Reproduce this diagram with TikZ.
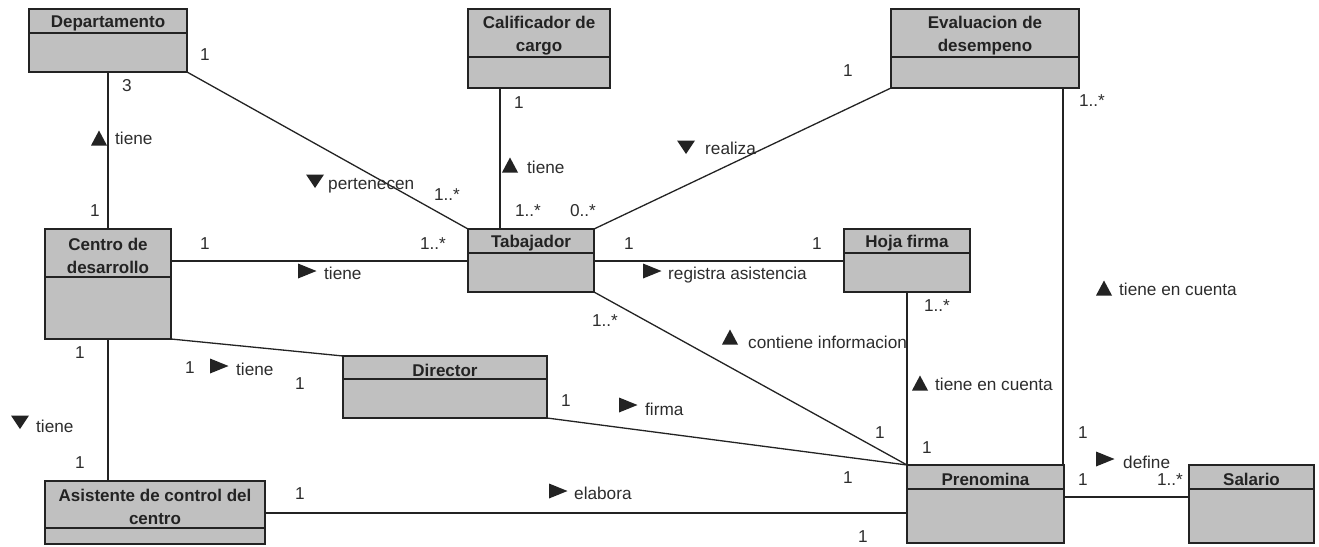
\documentclass[tikz,border=0pt]{standalone}
\usepackage{fontspec}
\setmainfont{Liberation Sans}
\definecolor{boxfill}{RGB}{192,192,192}
\definecolor{ink}{RGB}{35,35,35}
\definecolor{txt}{RGB}{45,45,45}
\tikzset{
  cls/.style={draw=ink, fill=boxfill, line width=1.4pt, inner sep=0pt, outer sep=0pt, rectangle},
  ttl/.style={font=\fontsize{17}{23}\selectfont\bfseries, text=ink, align=center, inner sep=0pt},
  lbl/.style={font=\fontsize{17.2}{20}\selectfont, text=txt, inner sep=0pt},
  conn/.style={draw=ink, line width=1.3pt},
  tup/.pic={\fill[ink] (-8,7.5) -- (8,7.5) -- (0,-7.5) -- cycle;},
  tdown/.pic={\fill[ink] (-9,-6.5) -- (9,-6.5) -- (0,7) -- cycle;},
  tright/.pic={\fill[ink] (-9,-7.5) -- (-9,7.5) -- (9.5,0) -- cycle;},
}
% name, x1, y1, x2, y2, ydiv, title
\newcommand\umlcls[7]{%
  \node[cls, minimum width={(#4-#2)*1pt}, minimum height={(#5-#3)*1pt}] (#1) at ({(#2+#4)/2},{(#3+#5)/2}) {};
  \draw[ink, line width=1.3pt] ([yshift={-(#6-#3)*1pt}]#1.north west) -- ([yshift={-(#6-#3)*1pt}]#1.north east);
  \node[ttl] (#1t) at ({(#2+#4)/2},{(#3+#6)/2+2.5}) {#7};
}
% name, x, y, text
\newcommand\mult[4]{\node[lbl, anchor=base] (#1) at (#2,{#3+6}) {#4};}
% name, pic, tx, ty, text x, text y, text
\newcommand\role[7]{\pic at (#3,#4) {#2}; \node[lbl, anchor=base west] (#1) at (#5,{#6+6}) {#7};}
\begin{document}
\begin{tikzpicture}[x=1pt, y=-1pt]
\useasboundingbox (0,0) rectangle (1319,546);
\fill[white] (0,0) rectangle (1319,546);
% classes
\umlcls{dep}{29}{9}{187}{72}{33}{Departamento}
\umlcls{cal}{468}{9}{610}{88}{57}{Calificador de\\cargo}
\umlcls{eva}{891}{9}{1079}{88}{57}{Evaluacion de\\desempeno}
\umlcls{cen}{45}{229}{171}{339}{277}{Centro de\\desarrollo}
\umlcls{tab}{468}{229}{594}{292}{253}{Tabajador}
\umlcls{hoj}{844}{229}{970}{292}{253}{Hoja firma}
\umlcls{dir}{343}{356}{547}{418}{379}{Director}
\umlcls{asi}{45}{481}{265}{544}{528}{Asistente de control del\\centro}
\umlcls{pre}{907}{465}{1064}{543}{489}{Prenomina}
\umlcls{sal}{1189}{465}{1314}{543}{489}{Salario}
% connectors
\draw[conn] (dep.south) -- (cen.north);
\draw[conn] (dep.south east) -- (tab.north west);
\draw[conn] ([xshift=32pt]cal.south west) -- ([xshift=32pt]tab.north west);
\draw[conn] (eva.south west) -- (tab.north east);
\draw[conn] ([yshift=-32pt]cen.north east) -- ([yshift=-32pt]tab.north west);
\draw[conn] ([yshift=-32pt]tab.north east) -- ([yshift=-32pt]hoj.north west);
\draw[conn] (cen.south east) -- (dir.north west);
\draw[conn] (cen.south) -- (cen.south |- asi.north);
\draw[conn] (tab.south east) -- (pre.north west);
\draw[conn] (dir.south east) -- (pre.north west);
\draw[conn] ([yshift=-32pt]asi.north east) -- ([yshift=-32pt]asi.north east -| pre.west);
\draw[conn] (pre.north west |- hoj.south) -- (pre.north west);
\draw[conn] ([xshift=-1pt]pre.north east |- eva.south) -- ([xshift=-1pt]pre.north east);
\draw[conn] ([yshift=-32pt]pre.north east) -- ([yshift=-32pt]sal.north west);
% multiplicities
\mult{m1}{205}{54}{1}
\mult{m2}{127}{85}{3}
\mult{m3}{95}{210}{1}
\mult{m4}{447}{194}{1..*}
\mult{m5}{519}{102}{1}
\mult{m6}{528}{210}{1..*}
\mult{m7}{583}{210}{0..*}
\mult{m8}{848}{70}{1}
\mult{m9}{1092}{100}{1..*}
\mult{m10}{205}{243}{1}
\mult{m11}{433}{243}{1..*}
\mult{m12}{629}{243}{1}
\mult{m13}{817}{243}{1}
\mult{m14}{605}{320}{1..*}
\mult{m15}{937}{305}{1..*}
\mult{m16}{880}{432}{1}
\mult{m17}{927}{447}{1}
\mult{m18}{566}{400}{1}
\mult{m19}{190}{367}{1}
\mult{m20}{300}{383}{1}
\mult{m21}{80}{352}{1}
\mult{m22}{80}{462}{1}
\mult{m23}{300}{493}{1}
\mult{m24}{848}{477}{1}
\mult{m25}{863}{536}{1}
\mult{m26}{1083}{432}{1}
\mult{m27}{1083}{479}{1}
\mult{m28}{1170}{479}{1..*}
% role names with direction triangles
\role{r1}{tup}{99}{138}{115}{138}{tiene}
\role{r2}{tdown}{315}{181}{328}{183}{pertenecen}
\role{r3}{tup}{510}{165}{527}{167}{tiene}
\role{r4}{tdown}{686}{147}{705}{148}{realiza}
\role{r5}{tup}{1104}{288}{1119}{289}{tiene en cuenta}
\role{r6}{tright}{307}{271}{324}{273}{tiene}
\role{r7}{tright}{652}{271}{668}{273}{registra asistencia}
\role{r8}{tup}{730}{337}{748}{342}{contiene informacion}
\role{r9}{tup}{920}{383}{935}{384}{tiene en cuenta}
\role{r10}{tright}{628}{405}{645}{409}{firma}
\role{r11}{tright}{219}{366}{236}{369}{tiene}
\role{r12}{tdown}{20}{422}{36}{426}{tiene}
\role{r13}{tright}{558}{491}{574}{493}{elabora}
\role{r14}{tright}{1105}{459}{1123}{462}{define}
\end{tikzpicture}
\end{document}
